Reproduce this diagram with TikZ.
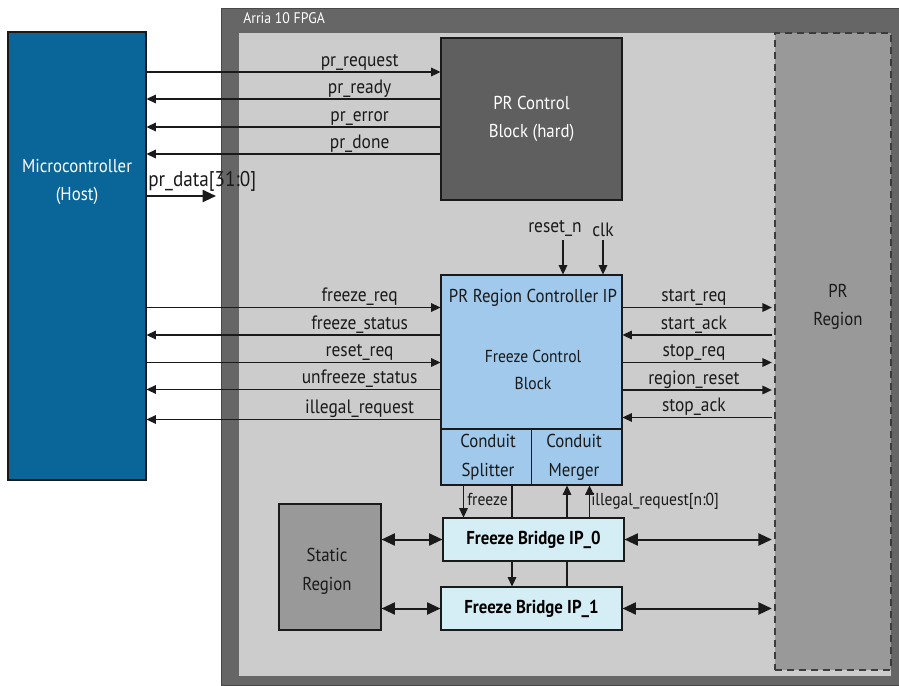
\documentclass[tikz,border=0pt]{standalone}
\usepackage{fontspec}
\setmainfont[FakeStretch=0.9]{PT Sans}
\usetikzlibrary{arrows.meta}

\definecolor{hostblue}{HTML}{0A6699}
\definecolor{fpgagray}{HTML}{666666}
\definecolor{hardgray}{HTML}{5F5F5F}
\definecolor{coregray}{HTML}{CCCCCC}
\definecolor{regiongray}{HTML}{999999}
\definecolor{ctrlblue}{HTML}{A0C9EB}
\definecolor{bridgecyan}{HTML}{D5EDF4}
\definecolor{ink}{HTML}{1A1A1A}

\tikzset{
  blk/.style={draw=ink, line width=0.8pt, inner sep=0pt, align=center},
  sigr/.style={ink, line width=0.8pt, -{Triangle[length=7pt,width=6.5pt]}},
  sigl/.style={ink, line width=0.8pt, {Triangle[length=7pt,width=6.5pt]}-},
  lbl/.style={above, inner sep=1pt, font=\fontsize{14.5}{16}\selectfont, text=ink},
  bus/.style={ink, line width=1.5pt, {Triangle[length=10pt,width=9pt]}-{Triangle[length=10pt,width=9pt]}},
  boxtxt/.style={align=center, inner sep=0pt, font=\fontsize{14}{21.5}\selectfont},
}

\begin{document}
\begin{tikzpicture}[x=0.75pt, y=-0.75pt]
\def\u{0.75pt}
\useasboundingbox (0,0) rectangle (899,685);
% FPGA
\node[fill=fpgagray, draw=ink!80, line width=0.6pt, minimum width=678*\u, minimum height=677*\u, inner sep=0pt] (fpga) at (560,346.5) {};
\node[anchor=west, text=white, inner sep=0pt, font=\fontsize{11.5}{13}\selectfont] (fpgatxt) at (243,18) {Arria 10 FPGA};
\node[fill=coregray, minimum width=652*\u, minimum height=643*\u, inner sep=0pt] (core) at (565,354.5) {};
% PR region
\node[fill=regiongray, draw=ink!85, dash pattern=on 5pt off 4pt, line width=0.8pt, minimum width=116*\u, minimum height=637*\u, inner sep=0pt] (prr) at (833,351.5) {};
\node[boxtxt, text=ink] (prrtxt) at (838,307) {PR\\Region};
% host
\node[blk, fill=hostblue, minimum width=138*\u, minimum height=448*\u] (mcu) at (77,256) {};
\node[boxtxt, text=white] (mcutxt) at (77,182) {Microcontroller\\(Host)};
% PR control block
\node[blk, fill=hardgray, text=white, font=\fontsize{14}{21.5}\selectfont, minimum width=181*\u, minimum height=162*\u] (prcb) at (531.5,119) {PR Control\\Block (hard)};
% controller
\node[blk, fill=ctrlblue, minimum width=181*\u, minimum height=210*\u] (prc) at (531.5,380) {};
\node[boxtxt, text=ink] (prctitle) at (533,298) {PR Region Controller IP};
\node[boxtxt, text=ink, font=\fontsize{13}{20}\selectfont] (fcb) at (533,370) {Freeze Control\\Block};
\draw[ink, line width=0.8pt] (prc.west |- 0,429) -- (prc.east |- 0,429);
\draw[ink, line width=0.8pt] (prc.south |- 0,429) -- (prc.south);
\node[boxtxt, text=ink] (split) at (488,457.5) {Conduit\\Splitter};
\node[boxtxt, text=ink] (merge) at (574,457.5) {Conduit\\Merger};
% bridges and static region
\node[blk, fill=bridgecyan, font=\bfseries\fontsize{14}{16}\selectfont, minimum width=181*\u, minimum height=43*\u] (fb0) at (533.5,539.5) {Freeze Bridge IP\_0};
\node[blk, fill=bridgecyan, font=\bfseries\fontsize{14}{16}\selectfont, minimum width=181*\u, minimum height=43*\u] (fb1) at (531.5,608.5) {Freeze Bridge IP\_1};
\node[blk, fill=regiongray, minimum width=102*\u, minimum height=126*\u] (static) at (330,567) {};
\node[boxtxt, text=ink] (statictxt) at (327,571) {Static\\Region};

% host <-> PR control block
\foreach \y/\name/\s in {72/pr\_request/sigr, 99/pr\_ready/sigl, 127/pr\_error/sigl, 154/pr\_done/sigl}
  \draw[\s] (mcu.east |- 0,\y) -- node[lbl, pos=0.725] {\name} (prcb.west |- 0,\y);
\coordinate (pdend) at (216,196);
\draw[ink, line width=1.5pt, -{Triangle[length=10pt,width=9pt]}] (mcu.east |- pdend) -- (pdend);
\node[anchor=base west, inner sep=0pt, text=ink, font=\fontsize{16}{18}\selectfont] (pdtxt) at (148,186) {pr\_data[31:0]};
% host <-> controller
\foreach \y/\name/\s in {307.5/freeze\_req/sigr, 335/freeze\_status/sigl, 362.5/reset\_req/sigr, 389.5/unfreeze\_status/sigl, 419.5/illegal\_request/sigl}
  \draw[\s] (mcu.east |- 0,\y) -- node[lbl, pos=0.725] {\name} (prc.west |- 0,\y);
% controller <-> PR region
\foreach \y/\name/\s in {307.5/start\_req/sigr, 335/start\_ack/sigl, 362.5/stop\_req/sigr, 390/region\_reset/sigr, 417.5/stop\_ack/sigl}
  \draw[\s, shorten >=2pt] (prc.east |- 0,\y) -- node[lbl, pos=0.47] {\name} (prr.west |- 0,\y);
% clock and reset
\coordinate (rstin) at (563,240);
\coordinate (clkin) at (603,240);
\draw[sigr] (rstin) -- (prc.north -| rstin);
\draw[sigr] (clkin) -- (prc.north -| clkin);
\node[lbl] (rsttxt) at (555,238) {reset\_n};
\node[lbl] (clktxt) at (603,238) {clk};
% controller <-> bridges
\draw[sigr] (prc.south -| 463.5,0) -- (fb0.north -| 463.5,0);
\node[anchor=west, inner sep=0pt, text=ink, font=\fontsize{13}{15}\selectfont] (frztxt) at (467,499) {freeze};
\draw[ink, line width=0.8pt] (prc.south -| 512,0) -- (fb0.north -| 512,0);
\draw[sigr] (fb0.north -| 567,0) -- (prc.south -| 567,0);
\draw[sigr] (fb0.north -| 589.5,0) -- (prc.south -| 589.5,0);
\node[anchor=west, inner sep=0pt, text=ink, font=\fontsize{13}{15}\selectfont] (illtxt) at (591,501) {illegal\_request[n:0]};
\draw[sigr] (fb0.south -| 512,0) -- (fb1.north -| 512,0);
\draw[ink, line width=0.8pt] (fb0.south -| 567,0) -- (fb1.north -| 567,0);
% data paths
\draw[bus] (static.east |- fb0) -- (fb0.west);
\draw[bus, shorten >=2pt] (fb0.east) -- (prr.west |- fb0);
\draw[bus] (static.east |- fb1) -- (fb1.west);
\draw[bus, shorten >=2pt] (fb1.east) -- (prr.west |- fb1);
\end{tikzpicture}
\end{document}
